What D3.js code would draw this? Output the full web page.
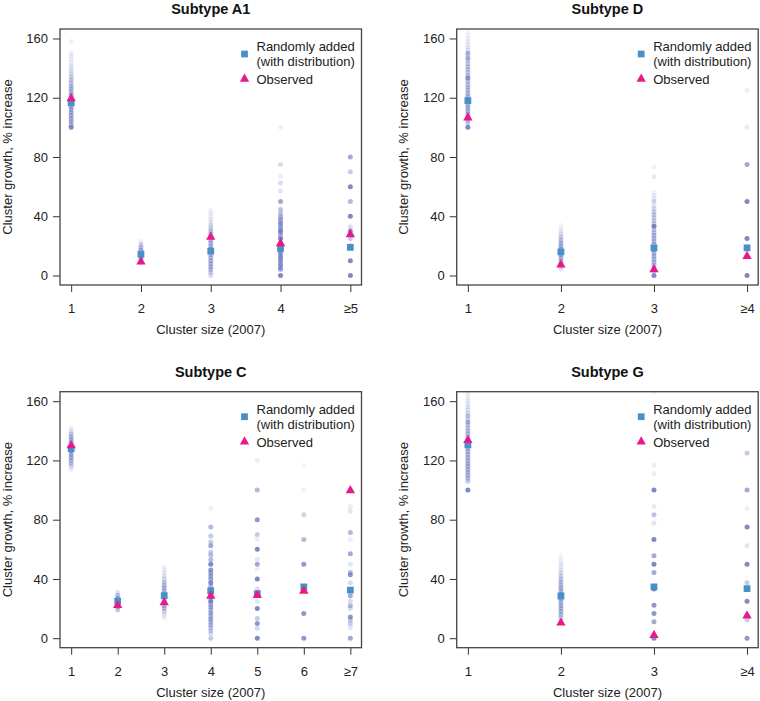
<!DOCTYPE html>
<html>
<head>
<meta charset="utf-8">
<script src="https://cdn.jsdelivr.net/npm/d3@7"></script>
<style>
  body { margin: 0; background: #fff; }
  svg { display: block; font-family: "Liberation Sans", Arial, sans-serif; }
</style>
</head>
<body>
<div id="chart"></div>
<script>
// simulated values per cluster size: [growth %, share of simulations (drawn as opacity)]
const a1Cats = ["1", "2", "3", "4", "\u22655"];
const a1Random = [116.5, 14.4, 16.5, 18.3, 19];
const a1Observed = [119.5, 9.2, 25.9, 21.6, 27.7];
const a1Sims = [
  [[100,.8],[102,.4],[104,.45],[106,.45],[108,.45],[110,.45],[112,.45],[114,.45],[116,.45],[118,.45],[120,.45],[122,.45],[124,.4],[126,.4],[128,.35],[130,.3],[132,.3],[134,.25],[136,.2],[138,.18],[140,.15],[142,.12],[144,.1],[146,.08],[148,.1],[150,.1],[158,.08]],
  [[9,.3],[11,.45],[13,.45],[15,.45],[17,.45],[19,.35],[21,.25],[23,.1]],
  [[0,.2],[2,.3],[4,.35],[6,.4],[8,.4],[10,.4],[12,.4],[14,.4],[16,.4],[18,.4],[20,.4],[22,.4],[24,.4],[26,.35],[28,.35],[30,.35],[32,.25],[34,.2],[36,.15],[38,.12],[40,.1],[42,.1],[44,.08]],
  [[0,.8],[4,.4],[5,.5],[7,.5],[8,.4],[10,.6],[12,.5],[13,.5],[15,.6],[17,.5],[18,.6],[20,.7],[22,.5],[25,.8],[27,.4],[29,.5],[30,.5],[31,.4],[33,.5],[35,.5],[36,.4],[38,.5],[40,.4],[42,.3],[44,.2],[45,.2],[50,.5],[57,.15],[62.5,.2],[67,.1],[75,.2],[100,.08]],
  [[0,.8],[10,.8],[20,.6],[25,.3],[30,.6],[33,.2],[40,.8],[50,.4],[60,.8],[70,.3],[80,.5]]
];

const dCats = ["1", "2", "3", "\u22654"];
const dRandom = [118, 16, 18.7, 18.7];
const dObserved = [106.5, 7.2, 4, 13];
const dSims = [
  [[100,.8],[103,.3],[105,.35],[107,.4],[109,.4],[111,.4],[113,.4],[115,.4],[117,.4],[119,.4],[121,.4],[123,.35],[125,.35],[127,.35],[129,.3],[131,.35],[133.3,.6],[135,.3],[137,.3],[139,.3],[141,.3],[143,.3],[145,.25],[146.7,.4],[148,.2],[150,.45],[152,.15],[154,.12],[156,.1],[158,.1],[160,.08],[162,.07],[164,.06]],
  [[4,.12],[6,.2],[8,.35],[10,.4],[12,.4],[14,.45],[16,.45],[18,.45],[20,.4],[22,.4],[24,.35],[26,.25],[28,.18],[30,.12],[32,.08],[34,.06]],
  [[0,.8],[3,.3],[5,.35],[7,.35],[9,.4],[11,.4],[13,.4],[15,.4],[17,.4],[19,.4],[21,.4],[23,.4],[25,.4],[27,.4],[29,.35],[31,.3],[33.3,.7],[35,.25],[37,.3],[39,.25],[41,.3],[43,.25],[45,.2],[47,.15],[50,.25],[52,.12],[54,.1],[56,.08],[66.7,.12],[73.3,.07]],
  [[0,.8],[25,.8],[50,.8],[75,.5],[100,.12],[125,.1]]
];

const cCats = ["1", "2", "3", "4", "5", "6", "\u22657"];
const cRandom = [128, 25, 28.7, 31.9, 30.1, 34.6, 32.5];
const cObserved = [130, 22.2, 24, 28.5, 29, 31.9, 99.7];
const cSims = [
  [[114,.1],[116,.2],[118,.35],[120,.4],[122,.45],[124,.45],[126,.45],[128,.45],[130,.45],[132,.45],[134,.45],[136,.4],[138,.3],[140,.15],[142,.08]],
  [[19,.3],[21,.45],[23,.45],[25,.45],[27,.45],[29,.35],[31,.15]],
  [[14,.1],[16,.15],[18,.25],[20,.35],[22,.4],[24,.4],[26,.4],[28,.4],[30,.4],[32,.4],[34,.4],[36,.35],[38,.3],[40,.2],[42,.15],[44,.12],[46,.1],[48,.08]],
  [[0,.3],[3,.2],[5,.3],[7,.3],[9,.4],[11,.4],[13,.5],[15,.4],[17,.5],[19,.4],[21,.5],[23,.4],[25,.7],[27,.4],[29,.5],[31,.4],[33,.5],[35,.4],[37.5,.7],[40,.5],[42,.5],[44,.5],[46,.6],[50,.7],[53,.4],[56,.35],[58,.3],[62.5,.5],[65,.3],[69,.3],[75,.4],[87.5,.08]],
  [[0,.8],[6.7,.2],[10,.6],[13.3,.3],[20,.8],[25,.15],[30,.6],[33.3,.2],[40,.8],[46.7,.1],[50,.5],[53.3,.15],[60,.8],[66.7,.1],[70,.3],[80,.6],[100,.4],[120,.1]],
  [[0,.6],[16.7,.6],[33.3,.4],[50,.6],[66.7,.4],[83.3,.25],[100,.08],[116.7,.06]],
  [[0,.5],[7,.15],[10,.3],[12.5,.3],[14.3,.6],[20,.2],[22,.4],[25,.2],[28.6,.5],[33,.2],[37.5,.2],[42.9,.6],[44.4,.4],[50,.15],[57.1,.5],[66.7,.1],[71.4,.4],[85.7,.15],[88.9,.1],[100,.1]]
];

const gCats = ["1", "2", "3", "\u22654"];
const gRandom = [130.6, 28.5, 34.6, 33.5];
const gObserved = [133.6, 10.4, 2, 15.2];
const gSims = [
  [[100,.8],[106,.3],[108,.35],[110,.4],[112,.4],[114,.4],[116,.4],[118,.4],[120,.4],[122,.4],[124,.4],[126,.4],[128,.4],[130,.4],[132,.4],[134,.4],[136,.35],[138,.35],[140,.35],[142,.3],[144,.3],[146,.45],[148,.2],[150,.35],[152,.2],[154,.15],[156,.15],[158,.12],[160,.12],[162,.1],[164,.08],[166,.08]],
  [[12,.15],[14,.3],[16,.35],[18,.4],[20,.4],[22,.4],[24,.4],[26,.4],[28,.4],[30,.4],[32,.4],[34,.4],[36,.35],[38,.35],[40,.3],[42,.25],[44,.2],[46,.15],[48,.12],[50,.12],[52,.08],[54,.06],[56,.05]],
  [[0,.8],[11.1,.5],[16.7,.6],[22.2,.6],[33.3,.7],[44.4,.5],[50,.8],[55.6,.5],[66.7,.8],[77.8,.15],[83.3,.35],[88.9,.12],[100,.8],[111.1,.1],[116.7,.08],[166.7,.1]],
  [[0,.6],[12.5,.3],[25,.8],[37.5,.3],[50,.8],[62.5,.15],[75,.7],[87.5,.1],[100,.5],[125,.3],[150,.1]]
];

const yTicks = [0, 40, 80, 120, 160];

const panels = [
  {title: "Subtype A1", cats: a1Cats, sims: a1Sims, random: a1Random, observed: a1Observed, left: 60, top: 29},
  {title: "Subtype D", cats: dCats, sims: dSims, random: dRandom, observed: dObserved, left: 456.7, top: 29},
  {title: "Subtype C", cats: cCats, sims: cSims, random: cRandom, observed: cObserved, left: 60, top: 391.7},
  {title: "Subtype G", cats: gCats, sims: gSims, random: gRandom, observed: gObserved, left: 456.7, top: 391.7}
];

const width = 760, height = 701;
const pw = 301.5, ph = 256;
const dotColor = "#6676bd", sqColor = "#4a90c8", triColor = "#e8198b";

const svg = d3.select("#chart").append("svg")
  .attr("width", width)
  .attr("height", height);

const square = d3.symbol().type(d3.symbolSquare).size(46);
const triangle = d3.symbol().type(d3.symbolTriangle).size(38);

panels.forEach((p, k) => {
  const n = p.cats.length;
  const pad = 0.04 * (n - 1);
  const x = d3.scaleLinear().domain([1 - pad, n + pad]).range([p.left, p.left + pw]);
  const y = d3.scaleLinear().domain([-6.4, 166.4]).range([p.top + ph, p.top]);

  const g = svg.append("g");

  g.append("clipPath").attr("id", "clip" + k)
    .append("rect").attr("x", p.left).attr("y", p.top).attr("width", pw).attr("height", ph);

  const plot = g.append("g").attr("clip-path", "url(#clip" + k + ")");

  // simulated distributions
  p.sims.forEach((col, i) => {
    plot.append("g").selectAll("circle")
      .data(col)
      .join("circle")
      .attr("cx", x(i + 1))
      .attr("cy", d => y(d[0]))
      .attr("r", 2.5)
      .attr("fill", dotColor)
      .attr("fill-opacity", d => Math.min(0.85, d[1] * 1.25));
  });

  plot.append("g").selectAll("path")
    .data(p.random)
    .join("path")
    .attr("d", square)
    .attr("transform", (d, i) => `translate(${x(i + 1)},${y(d)})`)
    .attr("fill", sqColor);

  plot.append("g").selectAll("path")
    .data(p.observed)
    .join("path")
    .attr("d", triangle)
    .attr("transform", (d, i) => `translate(${x(i + 1)},${y(d)})`)
    .attr("fill", triColor);

  // axes
  const ya = g.append("g")
    .attr("transform", `translate(${p.left},0)`)
    .call(d3.axisLeft(y).tickValues(yTicks).tickSize(7).tickPadding(5));
  const xa = g.append("g")
    .attr("transform", `translate(0,${p.top + ph})`)
    .call(d3.axisBottom(x).tickValues(d3.range(1, n + 1)).tickFormat(i => p.cats[i - 1]).tickSize(7).tickPadding(12));
  [ya, xa].forEach(a => {
    a.select(".domain").remove();
    a.selectAll("line").attr("stroke", "#333");
    a.selectAll("text").attr("font-size", 13).attr("fill", "#222")
      .attr("font-family", '"Liberation Sans", Arial, sans-serif');
  });

  g.append("rect")
    .attr("x", p.left).attr("y", p.top)
    .attr("width", pw).attr("height", ph)
    .attr("fill", "none").attr("stroke", "#444").attr("stroke-width", 1.3);

  g.append("text")
    .attr("x", p.left + pw / 2).attr("y", p.top - 15)
    .attr("text-anchor", "middle")
    .attr("font-size", 14.5).attr("font-weight", "bold").attr("fill", "#111")
    .text(p.title);

  g.append("text")
    .attr("x", p.left + pw / 2).attr("y", p.top + ph + 49)
    .attr("text-anchor", "middle")
    .attr("font-size", 13).attr("fill", "#222")
    .text("Cluster size (2007)");

  g.append("text")
    .attr("transform", `translate(${p.left - 48.5},${p.top + ph / 2}) rotate(-90)`)
    .attr("text-anchor", "middle")
    .attr("font-size", 13).attr("fill", "#222")
    .text("Cluster growth, % increase");

  // legend
  const right = p.left + pw;
  const lg = g.append("g");
  lg.append("path").attr("d", square)
    .attr("transform", `translate(${right - 117},${p.top + 25})`).attr("fill", sqColor);
  lg.append("path").attr("d", triangle)
    .attr("transform", `translate(${right - 117},${p.top + 50})`).attr("fill", triColor);
  [["Randomly added", 22], ["(with distribution)", 37], ["Observed", 55]].forEach(([t, dy]) => {
    lg.append("text")
      .attr("x", right - 105).attr("y", p.top + dy)
      .attr("font-size", 13).attr("fill", "#222")
      .text(t);
  });
});
</script>
</body>
</html>
